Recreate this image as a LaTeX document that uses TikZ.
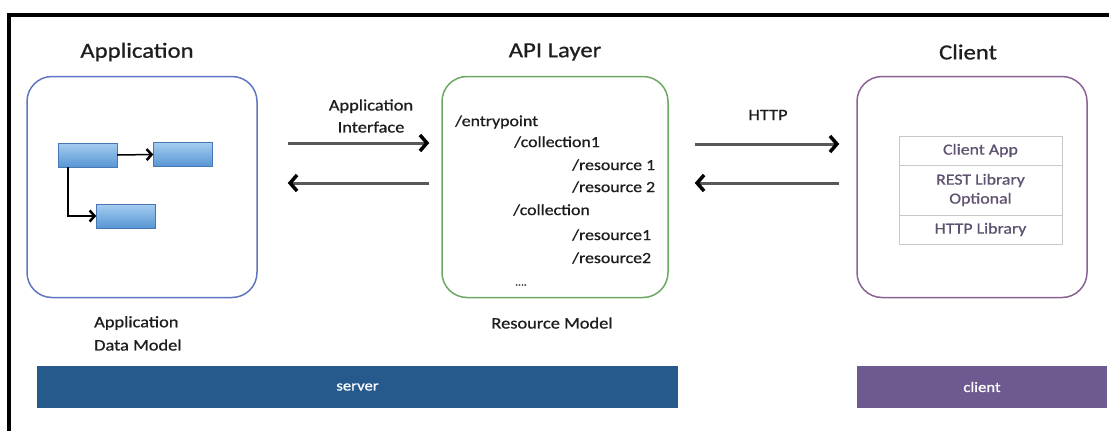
\documentclass[tikz,border=0pt]{standalone}
\usepackage{fontspec}
\setmainfont[FakeStretch=1.15,FakeBold=0.8]{Carlito}
\usetikzlibrary{arrows.meta}
\definecolor{appblue}{RGB}{95,118,192}
\definecolor{apigreen}{RGB}{108,168,98}
\definecolor{clipurple}{RGB}{138,98,148}
\definecolor{arrgray}{RGB}{88,88,88}
\definecolor{serverbar}{RGB}{38,90,140}
\definecolor{clientbar}{RGB}{108,90,145}
\definecolor{stacktext}{RGB}{95,82,112}
\definecolor{txt}{RGB}{30,30,30}
\begin{document}
\begin{tikzpicture}[x=1pt,y=-1pt, every node/.style={text=txt},
  title/.style={font=\fontsize{21.5}{24}\selectfont},
  lbl/.style={font=\fontsize{16}{22}\selectfont,align=center},
  path/.style={font=\fontsize{15.5}{18}\selectfont,anchor=west,inner sep=0pt},
  layer/.style={draw,line width=1.5pt,rounded corners=25pt,minimum width=230pt,minimum height=221pt},
  entity/.style={draw={rgb,255:red,70;green,120;blue,180},top color={rgb,255:red,165;green,205;blue,240},bottom color={rgb,255:red,88;green,150;blue,212},minimum width=59pt,minimum height=24pt,inner sep=0pt},
  stackrow/.style={draw={rgb,255:red,200;green,200;blue,200},fill=white,minimum width=163pt,inner sep=0pt,align=center,text=stacktext,font=\fontsize{15.5}{19}\selectfont},
  bar/.style={minimum height=42pt,inner sep=0pt,text=white,font=\fontsize{14.5}{17}\selectfont},
  flow/.style={draw=arrgray,line width=3pt,-{Straight Barb[length=7pt,width=16pt,line width=3.5pt,color=black]}},
  small/.style={draw=black,line width=1.5pt,-{Straight Barb[length=5pt,width=11pt,line width=2.5pt]}}]
\useasboundingbox (0,0) rectangle (1109,431);
\fill[white] (0,0) rectangle (1109,431);
% frame
\draw[line width=3.5pt] (9,431) -- (9,15) -- (1109,15);

% titles
\node[title] (tapp) at (137,52) {Application};
\node[title] (tapi) at (555,52) {API Layer};
\node[title] (tcli) at (968,52) {Client};

% layers
\node[layer,draw=appblue] (app) at (142,187) {};
\node[layer,draw=apigreen,minimum width=226pt] (api) at (555,187) {};
\node[layer,draw=clipurple] (client) at (972,187) {};

% data model inside application
\node[entity] (ent1) at (87.5,155) {};
\node[entity] (ent2) at (183,154.5) {};
\node[entity] (ent3) at (126,216) {};
\draw[small] (ent1.east) -- (ent2.west);
\draw[small] ([xshift=-19.5pt]ent1.south) |- (ent3.west);

% resource model
\node[path] (ep) at (455,122) {/entrypoint};
\node[path] (col1) at (514,142) {/collection1};
\node[path] (res11) at (572,165) {/resource 1};
\node[path] (res12) at (572,187) {/resource 2};
\node[path] (col2) at (513,210) {/collection};
\node[path] (res21) at (572,235) {/resource1};
\node[path] (res22) at (572,258) {/resource2};
\node[path,font=\fontsize{10}{12}\selectfont] (more) at (515,285) {....};

% client stack
\node[stackrow,minimum height=29pt] (capp) at (980.5,150.5) {Client App};
\node[stackrow,minimum height=50pt] (rest) at (980.5,190) {REST Library\\Optional};
\node[stackrow,minimum height=29pt] (httplib) at (980.5,229.5) {HTTP Library};

% connectors
\draw[flow,shorten <=30pt,shorten >=12pt] ([yshift=44pt]app.east) -- ([yshift=44pt]api.west);
\draw[flow,shorten <=12pt,shorten >=30pt] ([yshift=4pt]api.west) -- ([yshift=4pt]app.east);
\draw[flow,shorten <=26pt,shorten >=17pt] ([yshift=43pt]api.east) -- ([yshift=43pt]client.west);
\draw[flow,shorten <=17pt,shorten >=26pt] ([yshift=4pt]client.west) -- ([yshift=4pt]api.east);
\node[lbl] (ifc) at (371,116) {Application\\Interface};
\node[lbl] (http) at (768,115) {HTTP};

% captions
\node[lbl,anchor=west,inner sep=0pt] (dm1) at (94,323) {Application};
\node[lbl,anchor=west,inner sep=0pt] (dm2) at (94,345) {Data Model};
\node[lbl] (rm) at (552,323) {Resource Model};

% tiers
\node[bar,fill=serverbar,minimum width=641pt] (server) at (357.5,387) {server};
\node[bar,fill=clientbar,minimum width=250pt] (clienttier) at (982,387) {client};
\end{tikzpicture}
\end{document}
